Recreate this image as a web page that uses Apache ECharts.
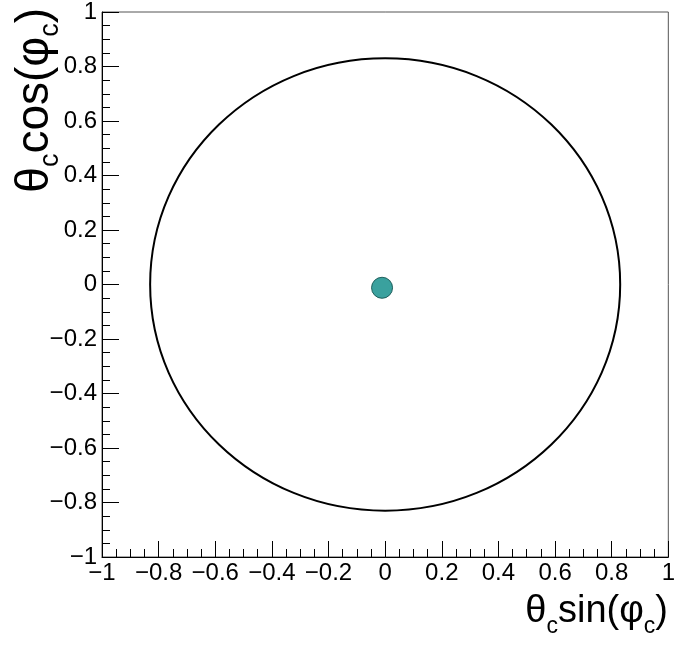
<!DOCTYPE html>
<html>
<head>
<meta charset="utf-8">
<script src="https://cdn.jsdelivr.net/npm/echarts@6/dist/echarts.min.js"></script>
<style>
html,body{margin:0;padding:0;background:#fff;}
#c{width:678px;height:645px;}
</style>
</head>
<body>
<div id="c"></div>
<script>
// ---- data ----
const xTicks = [-1, -0.8, -0.6, -0.4, -0.2, 0, 0.2, 0.4, 0.6, 0.8, 1];
const xTickLabels = ['\u22121', '\u22120.8', '\u22120.6', '\u22120.4', '\u22120.2', '0', '0.2', '0.4', '0.6', '0.8', '1'];
const yTicks = [-1, -0.8, -0.6, -0.4, -0.2, 0, 0.2, 0.4, 0.6, 0.8, 1];
const yTickLabels = ['\u22121', '\u22120.8', '\u22120.6', '\u22120.4', '\u22120.2', '0', '0.2', '0.4', '0.6', '0.8', '1'];
const ringCenter = [0, 0];
const ringRadius = 0.83;
const pointX = [-0.011];
const pointY = [-0.012];

function lab(ticks, labels) {
  return function (v) {
    for (let i = 0; i < ticks.length; i++) {
      if (Math.abs(ticks[i] - v) < 1e-6) return labels[i];
    }
    return '';
  };
}

const FONT = 'Liberation Sans';
const chart = echarts.init(document.getElementById('c'), null, {renderer: 'canvas'});

const axisCommon = {
  type: 'value',
  min: -1, max: 1, interval: 0.2,
  splitLine: {show: false},
  axisLine: {show: true, onZero: false, lineStyle: {color: '#000', width: 1}},
  axisTick: {show: true, inside: true, length: 16, lineStyle: {color: '#000', width: 1}},
  minorTick: {show: true, splitNumber: 4, length: 8, lineStyle: {color: '#000', width: 1}},
  minorSplitLine: {show: false}
};

function rich(main, sub, lh) {
  return {
    m: {fontSize: main, fontFamily: FONT, color: '#000', lineHeight: lh},
    s: {fontSize: sub, fontFamily: FONT, color: '#000', verticalAlign: 'bottom', lineHeight: lh}
  };
}

chart.setOption({
  backgroundColor: '#fff',
  animation: false,
  grid: {left: 102, right: 8, top: 11, bottom: 88, show: true, borderColor: '#555', borderWidth: 1, backgroundColor: 'transparent'},
  xAxis: Object.assign({}, axisCommon, {
    position: 'bottom',
    axisLabel: {show: true, margin: 4, fontSize: 24, fontFamily: FONT, color: '#000', formatter: lab(xTicks, xTickLabels)}
  }),
  yAxis: Object.assign({}, axisCommon, {
    position: 'left',
    axisTick: {show: true, inside: true, length: 17, lineStyle: {color: '#000', width: 1}},
    axisLabel: {show: true, margin: 5, fontSize: 24, fontFamily: FONT, color: '#000', formatter: lab(yTicks, yTickLabels)}
  }),
  graphic: [
    {
      type: 'text', x: 668, y: 612,
      style: {text: '{m|θ}{s|c}{m|sin(φ}{s|c}{m|)}', rich: rich(38, 23, 52), align: 'right', verticalAlign: 'middle'}
    },
    {
      type: 'text', x: 35, y: 8, rotation: Math.PI / 2,
      style: {text: '{m|θ}{s|c}{m|cos(φ}{s|c}{m|)}', rich: rich(46, 27, 58), align: 'right', verticalAlign: 'middle'}
    }
  ],
  series: [
    {
      type: 'custom',
      data: [[ringCenter[0], ringCenter[1], ringRadius]],
      renderItem: function (params, api) {
        const c = api.coord([api.value(0), api.value(1)]);
        const s = api.size([api.value(2), api.value(2)]);
        return {
          type: 'ellipse',
          shape: {cx: c[0], cy: c[1], rx: s[0], ry: s[1]},
          style: {fill: null, stroke: '#000', lineWidth: 2}
        };
      },
      silent: true,
      z: 2
    },
    {
      type: 'scatter',
      data: pointX.map((x, i) => [x, pointY[i]]),
      symbol: 'circle',
      symbolSize: 21,
      itemStyle: {color: '#3aa19e', borderColor: '#1f5f5c', borderWidth: 1, opacity: 1},
      z: 3
    }
  ]
});
</script>
</body>
</html>
